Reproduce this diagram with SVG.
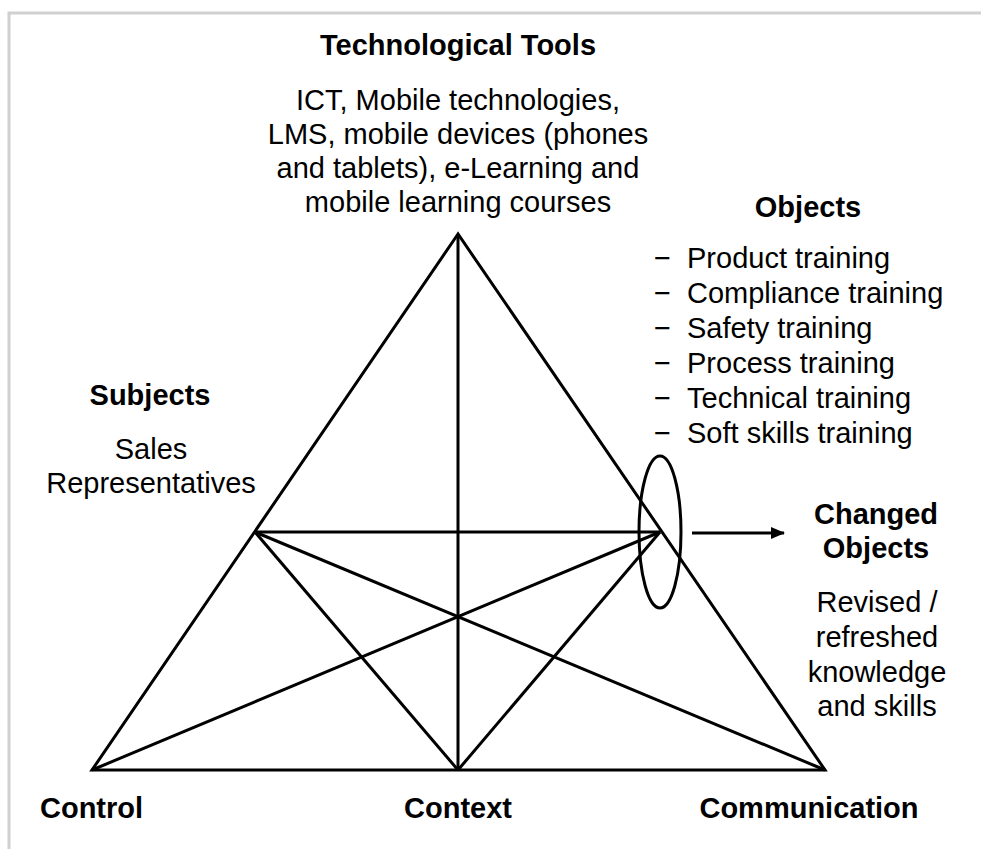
<svg xmlns="http://www.w3.org/2000/svg" width="981" height="849" viewBox="0 0 981 849">
<style>
.b{font-family:"Liberation Sans",Arial,sans-serif;font-weight:bold;font-size:29px;fill:#000}
.t{font-family:"Liberation Sans",Arial,sans-serif;font-size:29px;fill:#000}
.ln{stroke:#000;stroke-width:3;fill:none}
</style>
<defs>
<marker id="ah" markerWidth="14" markerHeight="12" refX="13" refY="6" orient="auto" markerUnits="userSpaceOnUse" viewBox="0 0 14 12">
<path d="M0,0 L14,6 L0,12 Z" fill="#000"/>
</marker>
</defs>
<rect width="981" height="849" fill="#fff"/>
<path d="M9,849 V13 H981" stroke="#d0d0d0" stroke-width="3" fill="none"/>
<g id="connectors">
<path class="ln" d="M458,234 L92,770 L825,770 Z"/>
<line class="ln" x1="458" y1="234" x2="458" y2="770"/>
<line class="ln" x1="255" y1="532" x2="660" y2="532"/>
<line class="ln" x1="255" y1="532" x2="825" y2="770"/>
<line class="ln" x1="255" y1="532" x2="458" y2="770"/>
<line class="ln" x1="660" y1="532" x2="92" y2="770"/>
<line class="ln" x1="660" y1="532" x2="458" y2="770"/>
<ellipse class="ln" cx="660" cy="532" rx="21" ry="76"/>
<line class="ln" x1="692" y1="533" x2="784" y2="533" marker-end="url(#ah)"/>
</g>
<g id="tools">
<text class="b" x="458" y="55" text-anchor="middle">Technological Tools</text>
<text class="t" x="458" y="110" text-anchor="middle">ICT, Mobile technologies,</text>
<text class="t" x="458" y="144" text-anchor="middle">LMS, mobile devices (phones</text>
<text class="t" x="458" y="178" text-anchor="middle">and tablets), e-Learning and</text>
<text class="t" x="458" y="212" text-anchor="middle">mobile learning courses</text>
</g>
<g id="objects">
<text class="b" x="808" y="217" text-anchor="middle">Objects</text>
<text class="t" x="654" y="268">−</text><text class="t" x="687" y="268">Product training</text>
<text class="t" x="654" y="303">−</text><text class="t" x="687" y="303">Compliance training</text>
<text class="t" x="654" y="338">−</text><text class="t" x="687" y="338">Safety training</text>
<text class="t" x="654" y="373">−</text><text class="t" x="687" y="373">Process training</text>
<text class="t" x="654" y="408">−</text><text class="t" x="687" y="408">Technical training</text>
<text class="t" x="654" y="443">−</text><text class="t" x="687" y="443">Soft skills training</text>
</g>
<g id="subjects">
<text class="b" x="150" y="405" text-anchor="middle">Subjects</text>
<text class="t" x="151" y="459" text-anchor="middle">Sales</text>
<text class="t" x="151" y="493" text-anchor="middle">Representatives</text>
</g>
<g id="changed">
<text class="b" x="876" y="524" text-anchor="middle">Changed</text>
<text class="b" x="876" y="558" text-anchor="middle">Objects</text>
<text class="t" x="877" y="612" text-anchor="middle">Revised /</text>
<text class="t" x="877" y="647" text-anchor="middle">refreshed</text>
<text class="t" x="877" y="682" text-anchor="middle">knowledge</text>
<text class="t" x="877" y="716" text-anchor="middle">and skills</text>
</g>
<g id="control"><text class="b" x="40" y="818">Control</text></g>
<g id="context"><text class="b" x="458" y="818" text-anchor="middle">Context</text></g>
<g id="communication"><text class="b" x="809" y="818" text-anchor="middle">Communication</text></g>
</svg>
